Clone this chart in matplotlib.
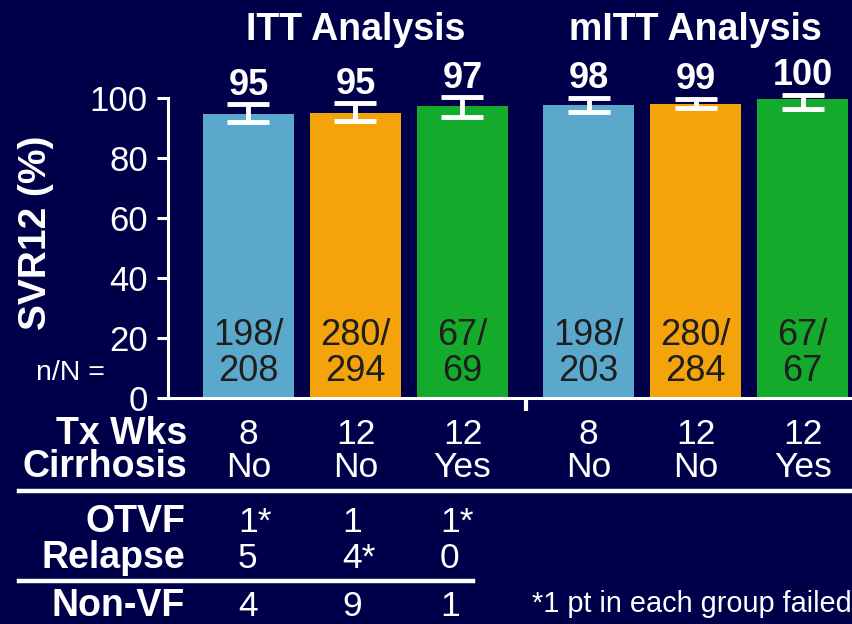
import numpy as np
import matplotlib
matplotlib.use("Agg")
import matplotlib.pyplot as plt
from matplotlib.lines import Line2D
from matplotlib.transforms import blended_transform_factory

plt.rcParams['font.family'] = ['Liberation Sans', 'DejaVu Sans']

# data
groups = ["ITT Analysis", "mITT Analysis"]
svr = [95, 95, 97, 98, 99, 100]
bar_heights = [94.7, 95.0, 97.3, 97.7, 98.1, 99.7]
ci_low = [91.9, 92.3, 93.6, 95.3, 96.7, 96.4]
ci_high = [97.9, 98.2, 100.2, 100.0, 99.6, 101.0]
n_resp = ["198/", "280/", "67/", "198/", "280/", "67/"]
n_total = ["208", "294", "69", "203", "284", "67"]
tx_wks = ["8", "12", "12", "8", "12", "12"]
cirrhosis = ["No", "No", "Yes", "No", "No", "Yes"]
otvf = ["1*", "1", "1*"]
relapse = ["5", "4*", "0"]
non_vf = ["4", "9", "1"]
footnote = "*1 pt in each group failed"

colors = ["#5AA9CD", "#F5A30A", "#14AA2C"] * 2
bg = "#00004A"
txt_dark = "#1E1E1E"

W, H = 853, 624
fig = plt.figure(figsize=(W / 100, H / 100), dpi=100, facecolor=bg)

def fx(px):
    return px / W

def fy(py):
    return 1 - py / H

ax = fig.add_axes([fx(168), fy(398), fx(853) - fx(168), fy(98) - fy(398)])
ax.set_facecolor(bg)

x = np.array([0, 1, 2, 3.18, 4.18, 5.18])
ax.bar(x, bar_heights, width=0.85, color=colors, edgecolor="none", zorder=2)

heights = np.array(bar_heights)
yerr = [heights - np.array(ci_low), np.array(ci_high) - heights]
eb = ax.errorbar(x, heights, yerr=yerr, fmt="none", ecolor="white",
                 elinewidth=3.5, capsize=15, capthick=3.5, zorder=3)
for art in eb.get_children():
    art.set_clip_on(False)

for xi, hi, v in zip(x, ci_high, svr):
    ax.annotate(str(v), (xi, hi), xytext=(0, 7), textcoords="offset points",
                ha="center", va="baseline", fontsize=26, fontweight="bold",
                color="white", annotation_clip=False)

for xi, a, b in zip(x, n_resp, n_total):
    ax.text(xi, 17.7, a, ha="center", va="baseline", fontsize=26, color=txt_dark, zorder=4)
    ax.text(xi, 5.7, b, ha="center", va="baseline", fontsize=26, color=txt_dark, zorder=4)

ax.set_xlim(-0.752, 5.65)
ax.set_ylim(0, 100)
ax.set_yticks([0, 20, 40, 60, 80, 100])
ax.set_xticks([])
ax.tick_params(axis="y", colors="white", labelsize=25, length=8, width=2.2, pad=6.5)
for s in ["top", "right"]:
    ax.spines[s].set_visible(False)
for s in ["left", "bottom"]:
    ax.spines[s].set_color("white")
    ax.spines[s].set_linewidth(2.2)

# divider tick between the two analyses
mid = (x[2] + x[3]) / 2
ax.plot([mid, mid], [0, -4.3], color="white", lw=3, clip_on=False, solid_capstyle="butt")

ax.set_ylabel("SVR12 (%)", fontsize=28, fontweight="bold", color="white")
ax.yaxis.set_label_coords((54 - 168) / (853 - 168), (398 - 233) / 300)

# group titles
tr = blended_transform_factory(ax.transData, fig.transFigure)
ax.text(x[:3].mean(), fy(40), groups[0], transform=tr,
        ha="center", va="baseline", fontsize=27, fontweight="bold", color="white")
ax.text(x[3:].mean(), fy(40), groups[1], transform=tr,
        ha="center", va="baseline", fontsize=27, fontweight="bold", color="white")

fig.text(fx(105), fy(380), "n/N =", ha="right", va="baseline", fontsize=20.5, color="white")

# table under the axis
fig.text(fx(187), fy(444), "Tx Wks", ha="right", va="baseline", fontsize=27, fontweight="bold", color="white")
fig.text(fx(187), fy(477), "Cirrhosis", ha="right", va="baseline", fontsize=27, fontweight="bold", color="white")
for xi, t, c in zip(x, tx_wks, cirrhosis):
    ax.text(xi, fy(444), t, transform=tr, ha="center", va="baseline", fontsize=25.5, color="white")
    ax.text(xi, fy(477), c, transform=tr, ha="center", va="baseline", fontsize=25.5, color="white")

fig.add_artist(Line2D([fx(19), 1], [fy(491), fy(491)], color="white", lw=3.2))

fig.text(fx(185), fy(532), "OTVF", ha="right", va="baseline", fontsize=27, fontweight="bold", color="white")
fig.text(fx(185), fy(568), "Relapse", ha="right", va="baseline", fontsize=27, fontweight="bold", color="white")
fig.text(fx(185), fy(616), "Non-VF", ha="right", va="baseline", fontsize=27, fontweight="bold", color="white")
col_x = [-0.1, 0.874, 1.79]
for cx, a, b, c in zip(col_x, otvf, relapse, non_vf):
    ax.text(cx, fy(532), a, transform=tr, ha="left", va="baseline", fontsize=25.5, color="white")
    ax.text(cx, fy(568), b, transform=tr, ha="left", va="baseline", fontsize=25.5, color="white")
    ax.text(cx, fy(616), c, transform=tr, ha="left", va="baseline", fontsize=25.5, color="white")

fig.add_artist(Line2D([fx(19), fx(473)], [fy(581), fy(581)], color="white", lw=3.2))

fig.text(fx(852), fy(612), footnote, ha="right", va="baseline", fontsize=20.8, color="white")

fig.savefig("out.png", dpi=100, facecolor=bg)
